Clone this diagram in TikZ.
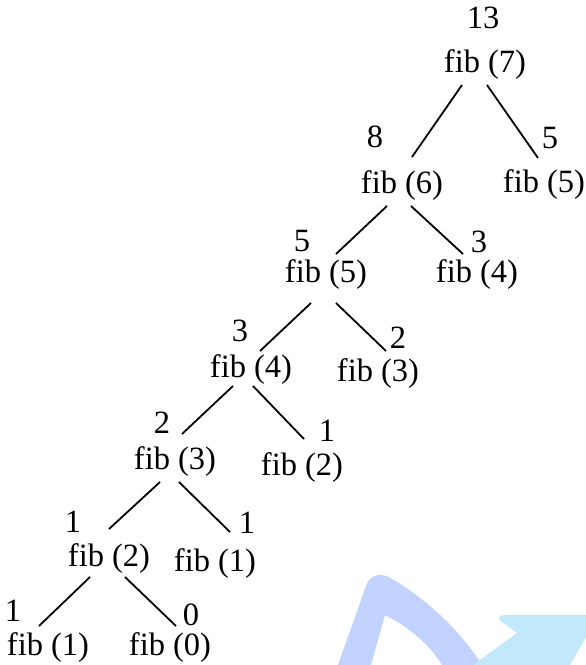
\documentclass[tikz,border=0pt]{standalone}
\usepackage{fontspec}
\setmainfont{Liberation Serif}
\definecolor{wmblue}{RGB}{193,210,252}
\definecolor{wmcyan}{RGB}{194,232,252}
\begin{document}
\begin{tikzpicture}[x=1pt,y=-1pt,
  txt/.style={font=\fontsize{32.5}{36}\selectfont, anchor=base, inner sep=0pt},
  edge/.style={line width=1.8pt}]
\useasboundingbox (0,0) rectangle (586,665);
\begin{scope}
\clip (0,0) rectangle (586,665);
% watermark shapes
\fill[wmblue] (338,665) -- (366,586) .. controls (370,574) and (382,572) .. (392,579)
  .. controls (425,598) and (460,630) .. (482,665) -- (442,665)
  .. controls (428,642) and (405,625) .. (385,615) -- (371,665) -- cycle;
\fill[wmcyan] (504,615) -- (586,615) -- (586,637) -- (570,665) -- (473,665) -- (517,633)
  -- (502,622) .. controls (497,619) and (499,615) .. (504,615) -- cycle;
\end{scope}
% values
\node[txt] (v7) at (483,28) {13};
\node[txt] (v6) at (375,147) {8};
\node[txt] (v5r) at (550,148) {5};
\node[txt] (v5) at (302,251) {5};
\node[txt] (v4r) at (479,252) {3};
\node[txt] (v4) at (240,341) {3};
\node[txt] (v3r) at (398,348) {2};
\node[txt] (v3) at (162,433) {2};
\node[txt] (v2r) at (327,441) {1};
\node[txt] (v2) at (73,532) {1};
\node[txt] (v1r) at (247,533) {1};
\node[txt] (v1) at (13,621) {1};
\node[txt] (v0) at (191,625) {0};
% calls
\node[txt] (f7) at (485,72) {fib (7)};
\node[txt] (f6) at (402,193) {fib (6)};
\node[txt] (f5r) at (544,192) {fib (5)};
\node[txt] (f5) at (326,282) {fib (5)};
\node[txt] (f4r) at (477,282) {fib (4)};
\node[txt] (f4) at (251,377) {fib (4)};
\node[txt] (f3r) at (378,381) {fib (3)};
\node[txt] (f3) at (175,469) {fib (3)};
\node[txt] (f2r) at (302,475) {fib (2)};
\node[txt] (f2) at (109,566) {fib (2)};
\node[txt] (f1r) at (215,571) {fib (1)};
\node[txt] (f1) at (48,655) {fib (1)};
\node[txt] (f0) at (170,655) {fib (0)};
% connector end points
\coordinate (a7l) at (462,85);  \coordinate (b6) at (412,157);
\coordinate (a7r) at (487,85);  \coordinate (b5r) at (538,158);
\coordinate (a6l) at (387,206); \coordinate (b5) at (336,254);
\coordinate (a6r) at (411,206); \coordinate (b4r) at (463,254);
\coordinate (a5l) at (311,303); \coordinate (b4) at (260,351);
\coordinate (a5r) at (336,303); \coordinate (b3r) at (386,351);
\coordinate (a4l) at (233,386); \coordinate (b3) at (182,434);
\coordinate (a4r) at (253,386); \coordinate (b2r) at (304,439);
\coordinate (a3l) at (160,482); \coordinate (b2) at (109,529);
\coordinate (a3r) at (179,482); \coordinate (b1r) at (230,532);
\coordinate (a2l) at (90,577);  \coordinate (b1) at (39,626);
\coordinate (a2r) at (125,577); \coordinate (b0) at (176,626);
\draw[edge] (a7l) -- (b6);
\draw[edge] (a7r) -- (b5r);
\draw[edge] (a6l) -- (b5);
\draw[edge] (a6r) -- (b4r);
\draw[edge] (a5l) -- (b4);
\draw[edge] (a5r) -- (b3r);
\draw[edge] (a4l) -- (b3);
\draw[edge] (a4r) -- (b2r);
\draw[edge] (a3l) -- (b2);
\draw[edge] (a3r) -- (b1r);
\draw[edge] (a2l) -- (b1);
\draw[edge] (a2r) -- (b0);
\end{tikzpicture}
\end{document}
